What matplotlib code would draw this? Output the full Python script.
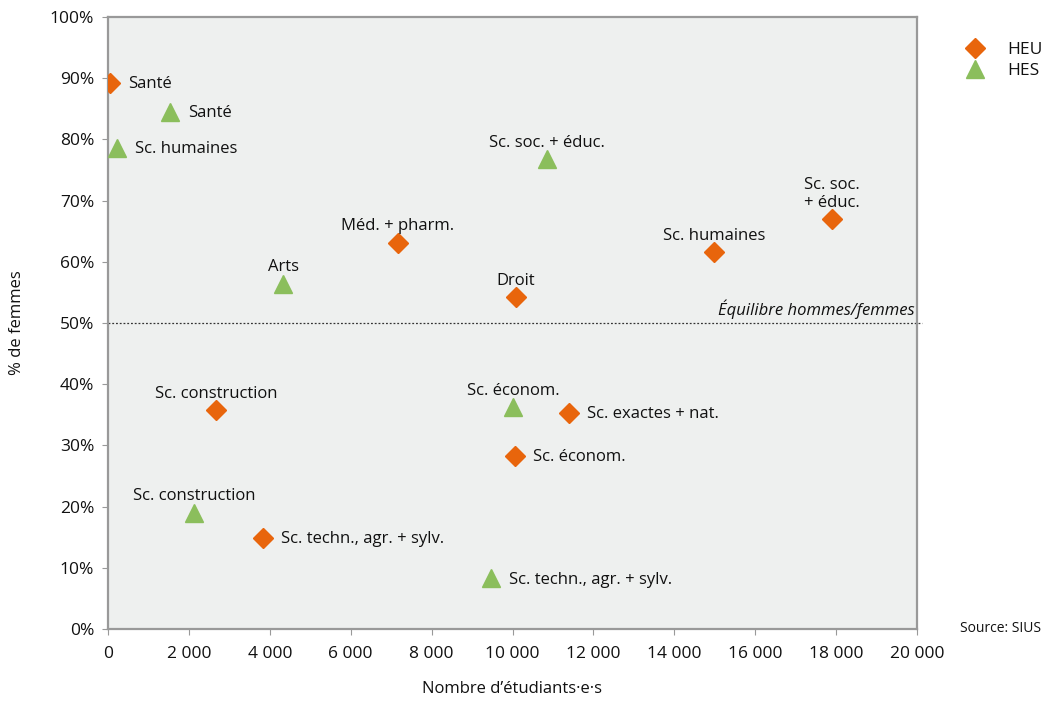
import matplotlib
matplotlib.use("Agg")
import matplotlib.pyplot as plt
from matplotlib.ticker import FuncFormatter

plt.rcParams['font.family'] = ['Open Sans', 'DejaVu Sans']

# HEU data
heu_labels = ["Santé", "Sc. construction", "Sc. techn., agr. + sylv.", "Méd. + pharm.", "Droit",
              "Sc. économ.", "Sc. exactes + nat.", "Sc. humaines", "Sc. soc.\n+ éduc."]
heu_x = [50, 2670, 3830, 7170, 10090, 10060, 11400, 14980, 17900]
heu_y = [89.2, 35.8, 14.9, 63.1, 54.2, 28.3, 35.3, 61.6, 67.0]
heu_pos = ["right", "above", "right", "above", "above", "right", "right", "above", "above"]

# HES data
hes_labels = ["Sc. humaines", "Santé", "Arts", "Sc. soc. + éduc.", "Sc. économ.",
              "Sc. construction", "Sc. techn., agr. + sylv."]
hes_x = [220, 1530, 4330, 10850, 10010, 2130, 9470]
hes_y = [78.6, 84.5, 56.4, 76.8, 36.3, 19.0, 8.3]
hes_pos = ["right", "right", "above", "above", "above", "above", "right"]

x_ticks = list(range(0, 20001, 2000))
y_ticks = list(range(0, 101, 10))

ORANGE = "#E8650C"
GREEN = "#8BBE5C"
SPINE = "#999999"
TXT = "#111111"

fig = plt.figure(figsize=(10.46, 7.04), dpi=100)
ax = fig.add_axes([108/1046, 1-629/704, (917-108)/1046, (629-17)/704])
ax.set_facecolor("#EEF0EF")

ax.plot(heu_x, heu_y, linestyle="none", marker="D", ms=10, color=ORANGE, label="HEU", zorder=3)
ax.plot(hes_x, hes_y, linestyle="none", marker="^", ms=13, color=GREEN, label="HES", zorder=3)

def annotate(labels, xs, ys, poss):
    for lab, x, y, p in zip(labels, xs, ys, poss):
        if p == "right":
            ax.annotate(lab, (x, y), xytext=(13, -1), textcoords="offset points",
                        ha="left", va="center", fontsize=12, color=TXT)
        else:
            ax.annotate(lab, (x, y), xytext=(0, 6), textcoords="offset points",
                        ha="center", va="bottom", fontsize=12, color=TXT,
                        multialignment="center", linespacing=1.15)

annotate(heu_labels, heu_x, heu_y, heu_pos)
annotate(hes_labels, hes_x, hes_y, hes_pos)

ax.axhline(50, xmin=0, xmax=1.006, color="#333333", linestyle=(0, (1.5, 1.5)), linewidth=0.9, clip_on=False)
ax.text(19950, 50.6, "Équilibre hommes/femmes", ha="right", va="bottom", fontsize=12,
        style="italic", color=TXT)

ax.set_xlim(0, 20000)
ax.set_ylim(0, 100)
ax.set_xticks(x_ticks)
ax.set_yticks(y_ticks)
ax.xaxis.set_major_formatter(FuncFormatter(lambda v, p: f"{int(v):,}".replace(",", " ")))
ax.yaxis.set_major_formatter(FuncFormatter(lambda v, p: f"{int(v)}%"))
ax.tick_params(axis="both", direction="out", length=4, color=SPINE, labelsize=12.5, labelcolor=TXT)
ax.tick_params(axis="x", pad=8)
ax.tick_params(axis="y", pad=6)
for s in ax.spines.values():
    s.set_color(SPINE)
    s.set_linewidth(1.6)

ax.set_xlabel("Nombre d’étudiants·e·s", fontsize=12, labelpad=14, color=TXT)
ax.set_ylabel("% de femmes", fontsize=12, labelpad=18, color=TXT)

leg = fig.legend(loc="upper left", bbox_to_anchor=(946/1046, 1-26/704), frameon=False,
                 fontsize=12.5, handletextpad=1.1, labelspacing=0.3, handlelength=1.5)
for t in leg.get_texts():
    t.set_color(TXT)

fig.text(960/1046, 1-628/704, "Source: SIUS", fontsize=10, color=TXT, va="center", ha="left")

fig.savefig("out.png", dpi=100)
